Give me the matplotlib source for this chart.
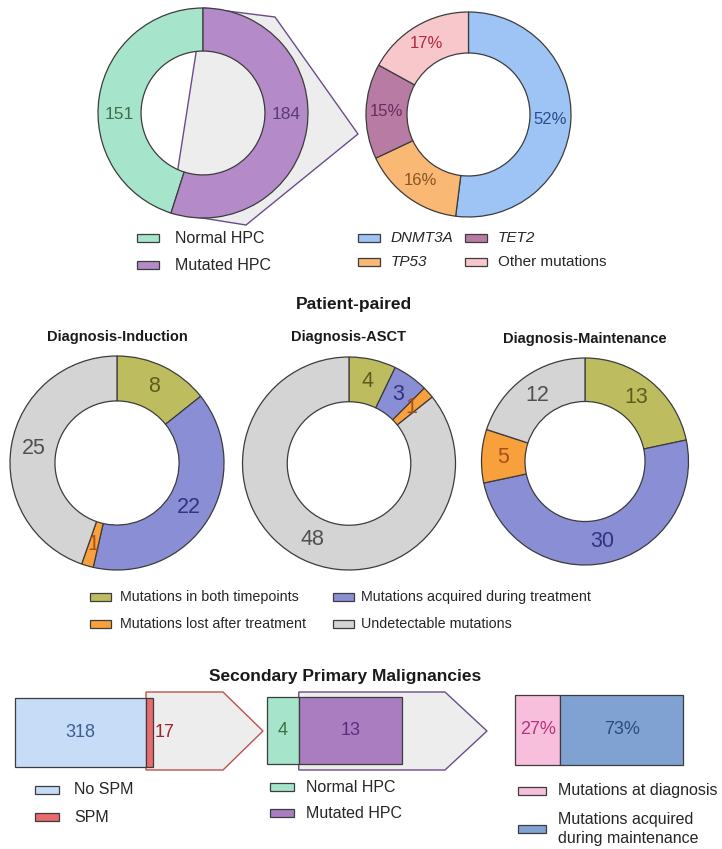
import numpy as np
import matplotlib
matplotlib.use('Agg')
import matplotlib.pyplot as plt
from matplotlib.patches import Polygon, Rectangle

plt.rcParams['font.family'] = ['Liberation Sans', 'DejaVu Sans']

# ---- data ----
hpc_labels = ['Normal HPC', 'Mutated HPC']
hpc_counts = [151, 184]

gene_labels = ['DNMT3A', 'TP53', 'TET2', 'Other mutations']
gene_pct = [52, 16, 15, 17]

paired_titles = ['Diagnosis-Induction', 'Diagnosis-ASCT', 'Diagnosis-Maintenance']
paired_labels = ['Mutations in both timepoints', 'Mutations acquired during treatment',
                 'Mutations lost after treatment', 'Undetectable mutations']
induction = [8, 22, 1, 25]
asct = [4, 3, 1, 48]
maintenance = [13, 30, 5, 12]

spm_labels = ['No SPM', 'SPM']
spm_counts = [318, 17]
spm_hpc_labels = ['Normal HPC', 'Mutated HPC']
spm_hpc_counts = [4, 13]
spm_mut_labels = ['Mutations at diagnosis', 'Mutations acquired\nduring maintenance']
spm_mut_pct = [27, 73]

# ---- colours ----
EDGE = '#3c3c3c'
FUNNEL = '#ededed'
hpc_colors = ['#a6e5cb', '#b48ac9']
hpc_txt = ['#3f6f4a', '#5c3a78']
gene_colors = ['#9ec4f6', '#f9b873', '#b87ba4', '#f8c7cc']
gene_txt = ['#2b4c8a', '#8a5424', '#6c2b5c', '#b02a3e']
paired_colors = ['#bdbd60', '#8a8fd5', '#f8a03c', '#d4d4d4']
paired_txt = ['#5c5c1e', '#2f3480', '#a8501c', '#505050']
spm_colors = ['#c7dcf6', '#e96a6e']
spm_txt = ['#3b5f94', '#a3202e']
spm_hpc_colors = ['#a6e5cb', '#a97dbf']
spm_hpc_txt = ['#3d7040', '#5a2d80']
spm_mut_colors = ['#f8bfdc', '#80a2d2']
spm_mut_txt = ['#b8337a', '#2b4a7e']

W, H = 722, 849
fig = plt.figure(figsize=(W / 100, H / 100), dpi=100)
bg = fig.add_axes([0, 0, 1, 1])
bg.set_xlim(0, W)
bg.set_ylim(H, 0)
bg.axis('off')


def px_axes(x0, y0, x1, y1):
    ax = fig.add_axes([x0 / W, 1 - y1 / H, (x1 - x0) / W, (y1 - y0) / H])
    ax.set_facecolor('none')
    return ax


def to_bg(ax, x, y):
    return bg.transData.inverted().transform(ax.transData.transform((x, y)))


def donut(cx, cy, r, values, colors, txt_colors, texts, width=0.41, fs=11,
          counterclock=False, label_angles=None):
    pad = 1.03
    ax = px_axes(cx - r * pad, cy - r * pad, cx + r * pad, cy + r * pad)
    wedges, _ = ax.pie(values, colors=colors, startangle=90, counterclock=counterclock,
                       wedgeprops=dict(width=width, edgecolor=EDGE, linewidth=0.9))
    ax.set_xlim(-pad, pad)
    ax.set_ylim(-pad, pad)
    rr = 1 - width / 2
    for i, (w, t, c) in enumerate(zip(wedges, texts, txt_colors)):
        deg = (w.theta1 + w.theta2) / 2 if label_angles is None else label_angles[i]
        a = np.deg2rad(deg)
        ax.text(rr * np.cos(a), rr * np.sin(a), t, ha='center', va='center',
                color=c, fontsize=fs)
    return ax, wedges


def stacked_bar(x0, y0, x1, y1, values, colors, txt_colors, texts, fs=13,
                last_outside=False):
    ax = px_axes(x0, y0, x1, y1)
    left = 0
    for i, (v, c) in enumerate(zip(values, colors)):
        ax.barh(0, v, left=left, height=1, color=c, edgecolor=EDGE, linewidth=0.9,
                clip_on=False)
        if last_outside and i == len(values) - 1:
            ax.text(left + v + sum(values) * 0.01, 0, texts[i], ha='left', va='center',
                    color=txt_colors[i], fontsize=fs)
        else:
            ax.text(left + v / 2, 0, texts[i], ha='center', va='center',
                    color=txt_colors[i], fontsize=fs)
        left += v
    ax.set_xlim(0, sum(values))
    ax.set_ylim(-0.5, 0.5)
    ax.axis('off')
    return ax


def funnel(pts, edge):
    bg.add_patch(Polygon(pts, closed=True, facecolor=FUNNEL, edgecolor=edge,
                         linewidth=1.0, zorder=0))


def legend_item(x, y, color, label, tx, fs=11.5, style='normal', w=22, h=8):
    bg.add_patch(Rectangle((x, y - h / 2), w, h, facecolor=color, edgecolor=EDGE,
                           linewidth=0.9))
    bg.text(tx, y, label, va='center', ha='left', fontsize=fs, style=style,
            color='#262626', linespacing=1.3)


# ---- top row ----
ax_hpc, w_hpc = donut(203, 113, 105, hpc_counts, hpc_colors, hpc_txt,
                      [str(v) for v in hpc_counts], fs=12.5, counterclock=True,
                      label_angles=[181, -1])
mut = w_hpc[1]
p_bot = to_bg(ax_hpc, np.cos(np.deg2rad(mut.theta1)), np.sin(np.deg2rad(mut.theta1)))
p_top = to_bg(ax_hpc, np.cos(np.deg2rad(mut.theta2)), np.sin(np.deg2rad(mut.theta2)))
funnel([p_top, (275, 17), (358, 134), (246, 225), p_bot], '#6a4c8c')

donut(468.5, 114.5, 102.5, gene_pct, gene_colors, gene_txt,
      ['%d%%' % v for v in gene_pct], width=0.4, fs=12)

for i, lab in enumerate(hpc_labels):
    legend_item(137, 238 + 27 * i, hpc_colors[i], lab, 175, fs=11.5)

gene_pos = [(358, 238, 391), (358, 262, 391), (465, 238, 498), (465, 262, 498)]
for i, lab in enumerate(gene_labels):
    x, y, tx = gene_pos[i]
    legend_item(x, y, gene_colors[i], lab, tx, fs=11,
                style='italic' if i < 3 else 'normal')

# ---- patient-paired ----
fig.text(354 / W, 1 - 305 / H, 'Patient-paired', ha='center', va='center',
         fontsize=12.5, fontweight='bold', color='#1a1a1a')

paired_sets = [induction, asct, maintenance]
paired_geom = [(117, 463, 107), (349, 463.5, 106.5), (585, 461.5, 103.5)]
title_y = [337, 337, 339]
for vals, (cx, cy, r), t, ty in zip(paired_sets, paired_geom, paired_titles, title_y):
    donut(cx, cy, r, vals, paired_colors, paired_txt, [str(v) for v in vals],
          width=0.42, fs=15.5)
    fig.text(cx / W, 1 - ty / H, t, ha='center', va='center', fontsize=10.5,
             fontweight='bold', color='#1a1a1a')

paired_pos = [(90, 597, 120), (333, 597, 361), (90, 624, 120), (333, 624, 361)]
for i, lab in enumerate(paired_labels):
    x, y, tx = paired_pos[i]
    legend_item(x, y, paired_colors[i], lab, tx, fs=10.3, w=21, h=8)

# ---- secondary primary malignancies ----
fig.text(345 / W, 1 - 676 / H, 'Secondary Primary Malignancies', ha='center',
         va='center', fontsize=12.5, fontweight='bold', color='#1a1a1a')

ax_b1 = stacked_bar(15, 698, 153, 767, spm_counts, spm_colors, spm_txt,
                    [str(v) for v in spm_counts], last_outside=True)
x_spm = to_bg(ax_b1, spm_counts[0], 0)[0]
funnel([(x_spm, 692), (223, 692), (263, 731), (223, 770), (x_spm, 770)], '#c0504d')

ax_b2 = stacked_bar(267, 697, 402, 764, spm_hpc_counts, spm_hpc_colors, spm_hpc_txt,
                    [str(v) for v in spm_hpc_counts])
x_mut = to_bg(ax_b2, spm_hpc_counts[0], 0)[0]
funnel([(x_mut, 692), (445, 692), (487, 731), (445, 770), (x_mut, 770)], '#6a4c8c')

stacked_bar(515, 695, 683, 765, spm_mut_pct, spm_mut_colors, spm_mut_txt,
            ['%d%%' % v for v in spm_mut_pct])

for i, lab in enumerate(spm_labels):
    legend_item(35, 790 + 27 * i, spm_colors[i], lab, 74, w=24)
for i, lab in enumerate(spm_hpc_labels):
    legend_item(270, 787 + 26 * i, spm_hpc_colors[i], lab, 306, w=24)
legend_item(518, 791, spm_mut_colors[0], spm_mut_labels[0], 558, w=28)
legend_item(518, 829, spm_mut_colors[1], spm_mut_labels[1], 558, w=28)

fig.savefig('out.png', dpi=100, facecolor='white')
